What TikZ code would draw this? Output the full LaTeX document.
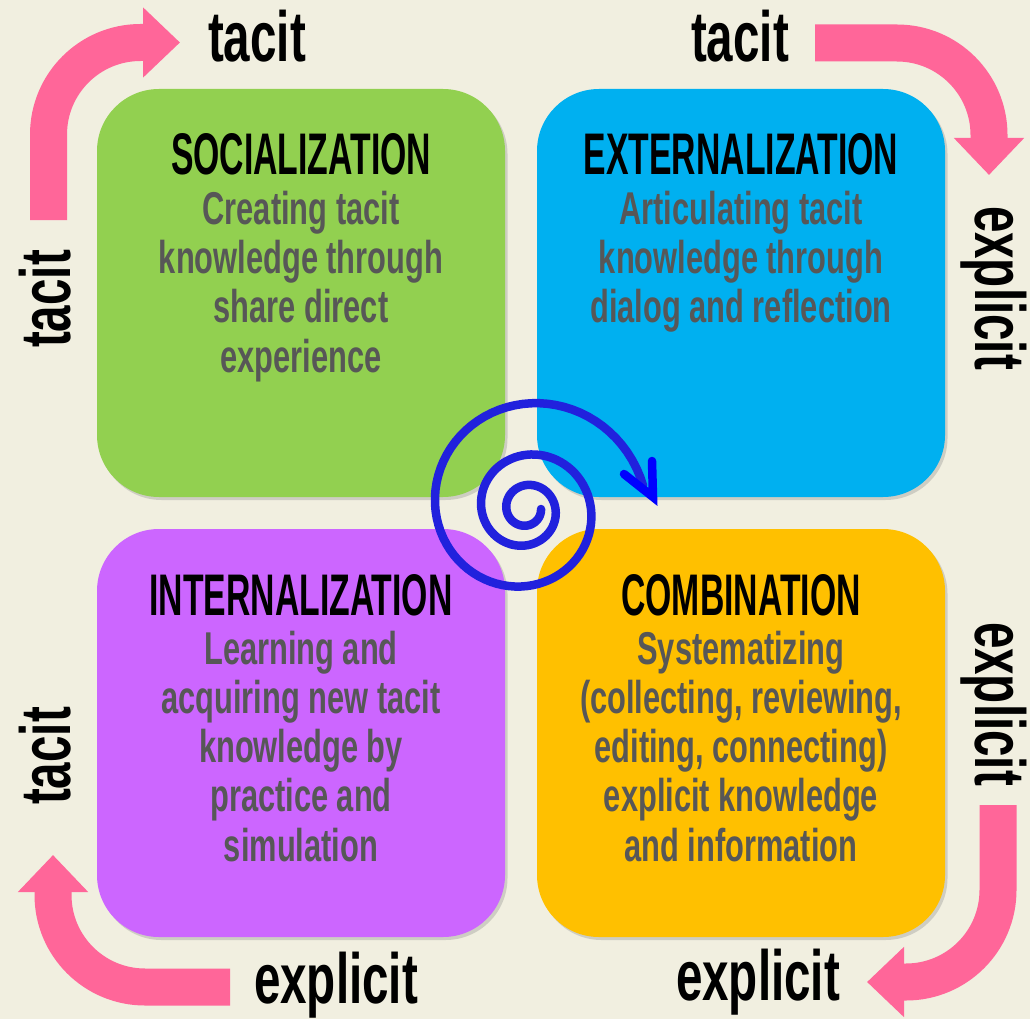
\documentclass[tikz,border=0pt]{standalone}
\usepackage{fontspec}
\setmainfont{Liberation Sans}[FakeStretch=0.67]
\newfontfamily\headfont{Liberation Sans}[FakeStretch=0.575]
\usetikzlibrary{arrows.meta,positioning,shadows}
\definecolor{bgcream}{HTML}{F1EFE0}
\definecolor{socgreen}{HTML}{92D050}
\definecolor{extblue}{HTML}{00B0F0}
\definecolor{intpurple}{HTML}{CC66FF}
\definecolor{combyellow}{HTML}{FFC000}
\definecolor{descgray}{HTML}{575757}
\definecolor{arrowpink}{HTML}{FF6699}
\definecolor{spiralblue}{HTML}{2121DD}
\tikzset{
    quad/.style ={rounded corners=62pt, minimum width=408pt, minimum height=408pt, inner sep=0pt,
        drop shadow={shadow xshift=2.5pt, shadow yshift=-3pt, opacity=.3}},
    quadtitle/.style = {font=\headfont\bfseries\fontsize{58.7}{60}\selectfont, anchor=base, inner sep=0pt},
    quaddesc/.style = {font=\bfseries\fontsize{46}{49.3}\selectfont, text=descgray, align=center, anchor=base, inner sep=0pt},
    modelabel/.style = {font=\bfseries\fontsize{71}{71}\selectfont, anchor=base, inner sep=0pt},
    cyclearrow/.style = {draw=arrowpink, line width=37pt, rounded corners=92pt, -{Triangle[length=37pt,width=68pt]}},
    spiral/.style = {draw=spiralblue, line width=8.5pt, line cap=round}
}
\begin{document}
\begin{tikzpicture}[x=1pt,y=-1pt]
            \useasboundingbox (0,0) rectangle (1030,1019);
            \fill[bgcream] (0,0) rectangle (1030,1019);
            % The four modes
            \node[quad,fill=socgreen] (soc) at (301,293) {};
            \node[quad,fill=extblue] (ext) at (741,293) {};
            \node[quad,fill=intpurple] (intl) at (301,733) {};
            \node[quad,fill=combyellow] (comb) at (741,733) {};
            % Titles and descriptions (base = last line)
            \node[quadtitle] (socT) at (301,175) {SOCIALIZATION};
            \node[quadtitle] (extT) at (741,175) {EXTERNALIZATION};
            \node[quadtitle] (intlT) at (301,615) {INTERNALIZATION};
            \node[quadtitle] (combT) at (741,615) {COMBINATION};
            \node[quaddesc] (socD) at (301,372) {Creating tacit\\knowledge through\\share direct\\experience};
            \node[quaddesc] (extD) at (741,322.6) {Articulating tacit\\knowledge through\\dialog and reflection};
            \node[quaddesc] (intlD) at (301,861.2) {Learning and\\acquiring new tacit\\knowledge by\\practice and\\simulation};
            \node[quaddesc] (combD) at (741,861.2) {Systematizing\\(collecting, reviewing,\\editing, connecting)\\explicit knowledge\\and information};
            % Tacit / explicit labels round the border
            \node[modelabel] (tacitTL) at (257,62) {tacit};
            \node[modelabel] (tacitTR) at (740,62) {tacit};
            \node[modelabel,rotate=-90] (explicitRT) at (975,288) {explicit};
            \node[modelabel,rotate=-90] (explicitRB) at (975,704) {explicit};
            \node[modelabel] (explicitBR) at (758,1000) {explicit};
            \node[modelabel] (explicitBL) at (336,1003) {explicit};
            \node[modelabel,rotate=90] (tacitLB) at (70,756) {tacit};
            \node[modelabel,rotate=90] (tacitLT) at (70,299) {tacit};
            % Ends of the pink arrows
            \coordinate (tlFrom) at (48.5,220);
            \coordinate (tlTo) at (180,42.5);
            \coordinate (trFrom) at (815,43);
            \coordinate (trTo) at (989,175);
            \coordinate (brFrom) at (998,805);
            \coordinate (brTo) at (867,982);
            \coordinate (blFrom) at (230,987);
            \coordinate (blTo) at (53,855);
            \draw[cyclearrow] (tlFrom) |- (tlTo);
            \draw[cyclearrow] (trFrom) -| (trTo);
            \draw[cyclearrow] (brFrom) |- (brTo);
            \draw[cyclearrow] (blFrom) -| (blTo);
            % The knowledge spiral
            \draw[spiral] plot[domain=0:2.97, samples=240, variable=\t]
                ({526+(15+4*\t+10.5*\t*\t)*cos(360*\t)}, {509+(15+4*\t+10.5*\t*\t)*sin(360*\t)});
            \coordinate (headA) at (624,474);
            \coordinate (headTip) at (653,497);
            \coordinate (headB) at (652,461);
            \draw[spiral,draw=blue] (headA) -- (headTip) -- (headB);
\end{tikzpicture}
\end{document}
